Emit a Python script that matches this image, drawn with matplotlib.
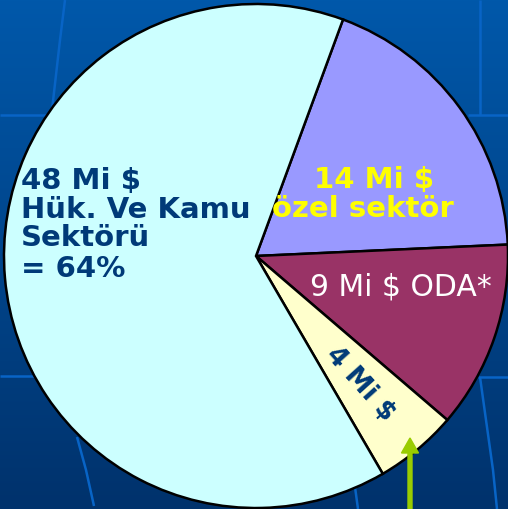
import numpy as np
import matplotlib
matplotlib.use("Agg")
import matplotlib.pyplot as plt
from matplotlib.patches import FancyArrow

# Data
labels = ["özel sektör", "ODA", "Diğer", "Hük. Ve Kamu Sektörü"]
values = [14, 9, 4, 48]
colors = ["#9999FF", "#993366", "#FFFFCC", "#CCFFFF"]

W, H = 508, 509
fig = plt.figure(figsize=(W / 100, H / 100), dpi=100)
ax = fig.add_axes([0, 0, 1, 1])
ax.set_xlim(0, W)
ax.set_ylim(0, H)
ax.axis("off")

# background gradient
top = np.array([0, 88, 170]) / 255
bot = np.array([0, 50, 108]) / 255
t = np.linspace(0, 1, 256)[:, None]
grad = top * (1 - t) + bot * t
img = np.repeat(grad[:, None, :], 2, axis=1)
ax.imshow(img, extent=[0, W, 0, H], origin="upper", aspect="auto", zorder=0)

# faint grid lines of the background
lc = "#0864C6"
def pl(xs, ys):
    ax.plot(xs, [H - y for y in ys], color=lc, lw=1.8, zorder=1, solid_capstyle="butt")
pl([0, 48], [115, 115])
pl([468, 508], [115, 115])
pl([0, 34], [376, 376])
pl([478, 508], [377, 377])
pl([65, 60, 52], [0, 40, 110])
pl([480, 480], [0, 115])
pl([77, 86, 94], [437, 470, 506])
pl([480, 486, 493, 497], [377, 420, 470, 509])
pl([355, 358], [487, 509])

# pie
wedges, _ = ax.pie(values, colors=colors, startangle=69.8, counterclock=False,
                   center=(256, H - 256), radius=252, frame=True,
                   wedgeprops=dict(edgecolor="black", linewidth=1.8))
for w in wedges:
    w.set_zorder(2)
ax.set_xlim(0, W)
ax.set_ylim(0, H)
ax.set_aspect("auto")
ax.axis("off")

navy = "#003A78"
fs = 21
kw = dict(fontweight="bold", fontsize=fs, color=navy, ha="left", va="baseline",
          family="DejaVu Sans", zorder=5)
ax.text(21, H - 189, "48 Mi $", **kw)
ax.text(21, H - 218, "Hük. Ve Kamu", **kw)
ax.text(21, H - 246, "Sektörü", **kw)
ax.text(21, H - 277, "= 64%", **kw)

ykw = dict(fontweight="bold", fontsize=fs, color="#FFFF00", ha="center",
           va="baseline", family="DejaVu Sans", zorder=5)
ax.text(374, H - 188, "14 Mi $", **ykw)
ax.text(363, H - 217, "özel sektör", **ykw)

ax.text(401, H - 296, "9 Mi $ ODA*", fontsize=21.5, color="white", ha="center",
        va="baseline", family="DejaVu Sans", zorder=5)

ax.text(360, H - 384, "4 Mi $", fontsize=19, fontweight="bold", color=navy,
        rotation=-48, ha="center", va="center", rotation_mode="anchor",
        family="DejaVu Sans", zorder=5)

# green arrow
ax.add_patch(FancyArrow(410, 0, 0, H - 438, width=4, head_width=17,
                        head_length=15, length_includes_head=True,
                        color="#99CC00", zorder=6))

fig.savefig("out.png", dpi=100)
